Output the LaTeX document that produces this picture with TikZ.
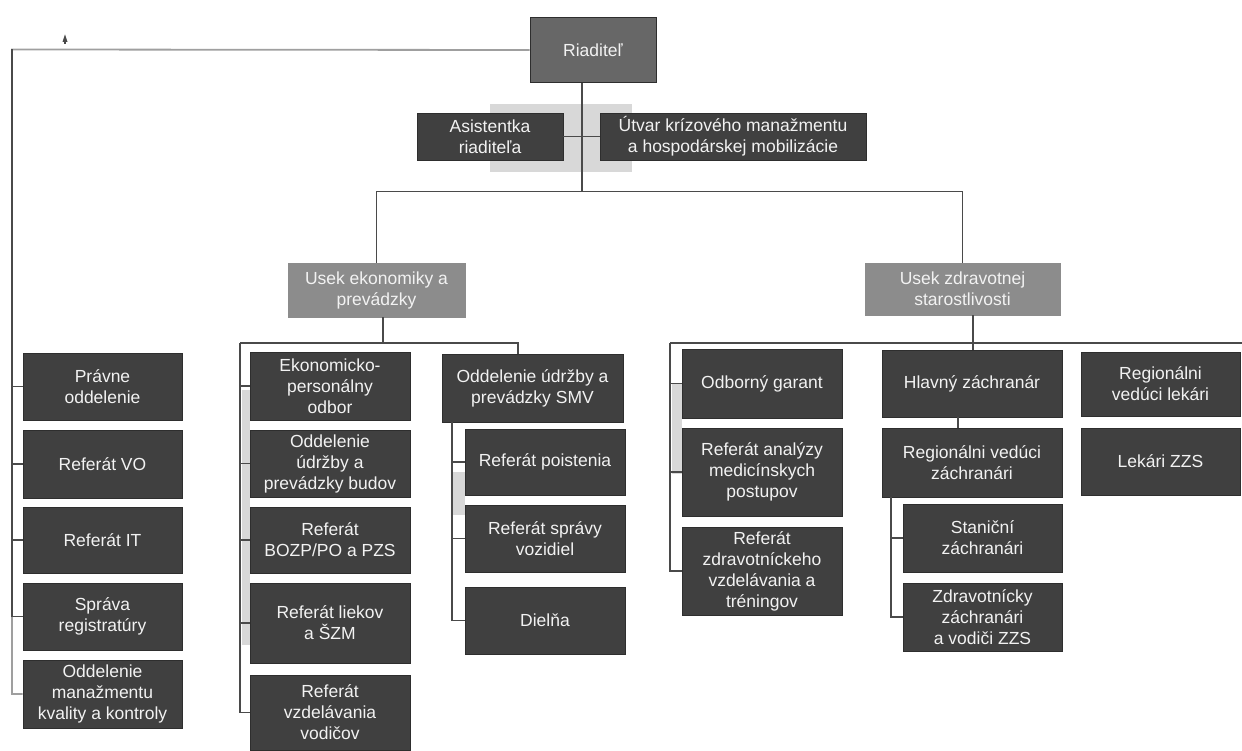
\documentclass[tikz,border=0pt]{standalone}
\usepackage{fontspec}
\setmainfont{Liberation Sans}
\usetikzlibrary{calc}
\definecolor{boxdark}{HTML}{404040}
\definecolor{boxmid}{HTML}{676767}
\definecolor{boxlight}{HTML}{8C8C8C}
\definecolor{edge}{HTML}{2E2E2E}
\definecolor{linec}{HTML}{4A4A4A}
\definecolor{smudge}{HTML}{D8D8D8}
\definecolor{txt}{HTML}{F2F2F2}
\tikzset{
  orgbox/.style={rectangle, draw=edge, line width=0.8pt, fill=boxdark, text=txt,
    align=center, inner sep=1pt, font=\fontsize{17.5}{21}\selectfont},
  topbox/.style={orgbox, fill=boxmid},
  secbox/.style={orgbox, fill=boxlight, draw=boxlight},
  conn/.style={draw=linec, line width=1.5pt},
  outer/.style={draw=gray!75, line width=1.8pt}
}
\begin{document}
\begin{tikzpicture}[x=1pt,y=-1pt]
\useasboundingbox (0,0) rectangle (1242,751);
\fill[white] (0,0) rectangle (1242,751);

% scan smudges
\fill[smudge] (490,104) rectangle (632,172);
\fill[smudge] (242,390) rectangle (250,645);
\fill[smudge] (672,384) rectangle (682,474);
\fill[smudge] (453,472) rectangle (465,515);

% small mark
\fill[linec] (62.5,42) -- (65,34.5) -- (67.5,42) -- cycle;
\fill[linec] (64.2,41) rectangle (65.8,44);

% nodes
\node[topbox, minimum width=126pt, minimum height=65pt] (riad) at (593,50) {Riaditeľ};
\node[orgbox, minimum width=146pt, minimum height=47pt] (asist) at (490,136.5) {Asistentka\\riaditeľa};
\node[orgbox, minimum width=266pt, minimum height=47pt] (utvar) at (733,136.5) {Útvar krízového manažmentu\\a hospodárskej mobilizácie};
\node[secbox, minimum width=177pt, minimum height=54pt] (usekE) at (376.5,290) {Usek ekonomiky a\\prevádzky};
\node[secbox, minimum width=195pt, minimum height=52pt] (usekZ) at (962.5,289) {Usek zdravotnej\\starostlivosti};

% left column
\node[orgbox, minimum width=159pt, minimum height=67pt] (pravne) at (102.5,386.5) {Právne\\oddelenie};
\node[orgbox, minimum width=159pt, minimum height=68pt] (refvo) at (102.5,464) {Referát VO};
\node[orgbox, minimum width=159pt, minimum height=66pt] (refit) at (102.5,540) {Referát IT};
\node[orgbox, minimum width=159pt, minimum height=67pt] (sprava) at (102.5,616.5) {Správa\\registratúry};
\node[orgbox, minimum width=159pt, minimum height=68pt] (oddman) at (102.5,694) {Oddelenie\\manažmentu\\kvality a kontroly};

% economy column
\node[orgbox, minimum width=160pt, minimum height=68pt] (eko) at (330,386) {Ekonomicko-\\personálny\\odbor};
\node[orgbox, minimum width=160pt, minimum height=67pt] (budov) at (330,463.5) {Oddelenie\\údržby a\\prevádzky budov};
\node[orgbox, minimum width=160pt, minimum height=66pt] (bozp) at (330,540) {Referát\\BOZP/PO a PZS};
\node[orgbox, minimum width=160pt, minimum height=80pt] (liekov) at (330,623) {Referát liekov\\a ŠZM};
\node[orgbox, minimum width=160pt, minimum height=75pt] (vodic) at (330,712.5) {Referát\\vzdelávania\\vodičov};

% SMV column
\node[orgbox, minimum width=181pt, minimum height=68pt] (smv) at (532.5,388) {Oddelenie údržby a\\prevádzky SMV};
\node[orgbox, minimum width=160pt, minimum height=66pt] (poist) at (545,462) {Referát poistenia};
\node[orgbox, minimum width=160pt, minimum height=67pt] (vozid) at (545,538.5) {Referát správy\\vozidiel};
\node[orgbox, minimum width=160pt, minimum height=67pt] (dielna) at (545,620.5) {Dielňa};

% health column
\node[orgbox, minimum width=160pt, minimum height=69pt] (garant) at (762,383.5) {Odborný garant};
\node[orgbox, minimum width=160pt, minimum height=88pt] (analyzy) at (762,472) {Referát analýzy\\medicínskych\\postupov};
\node[orgbox, minimum width=160pt, minimum height=88pt] (zdrvzd) at (762,571) {Referát\\zdravotníckeho\\vzdelávania a\\tréningov};

\node[orgbox, minimum width=180pt, minimum height=67pt] (hlavny) at (972,383.5) {Hlavný záchranár};
\node[orgbox, minimum width=180pt, minimum height=69pt] (regz) at (972,462.5) {Regionálni vedúci\\záchranári};
\node[orgbox, minimum width=159pt, minimum height=68pt] (stanic) at (982.5,538) {Staniční\\záchranári};
\node[orgbox, minimum width=159pt, minimum height=68pt] (zdrzach) at (982.5,617) {Zdravotnícky\\záchranári\\a vodiči ZZS};

\node[orgbox, minimum width=159pt, minimum height=64pt] (reglek) at (1160.5,384) {Regionálni\\vedúci lekári};
\node[orgbox, minimum width=159pt, minimum height=67pt] (lekzzs) at (1160.5,461.5) {Lekári ZZS};

% coordinates
\coordinate (Ltop) at (12,49.5);
\coordinate (jx) at (582,0);
\coordinate (j1) at (582,192);
\coordinate (e1) at (383,343);
\coordinate (e0) at (240,343);
\coordinate (smvtop) at (518,343);
\coordinate (s0) at (452,422);
\coordinate (z0) at (670,343);
\coordinate (zend) at (1242,343);
\coordinate (zs) at (973,343);
\coordinate (hx) at (958,0);
\coordinate (r0) at (891,497);

% connectors
\draw[outer] (riad.west) -- (Ltop) |- (oddman.west);
\foreach \n in {pravne,refvo,refit,sprava}{\draw[conn] (Ltop) |- (\n.west);}
\draw[conn] (riad.south -| jx) -- (j1);
\draw[conn] (asist.east) -- (utvar.west);
\draw[conn] (usekE.north) -- ++(0,-71) -| (usekZ.north);

\draw[conn] (usekE.south -| e1) -- (e1);
\draw[conn] (e0) -- (smvtop) -- (smvtop |- smv.north);
\foreach \n in {eko,budov,bozp,liekov,vodic}{\draw[conn] (e0) |- (\n.west);}
\foreach \n in {poist,vozid,dielna}{\draw[conn] (s0) |- (\n.west);}

\draw[conn] (z0) -- (zend);
\draw[conn] (usekZ.south -| zs) -- (hlavny.north -| zs);
\foreach \n in {garant,analyzy,zdrvzd}{\draw[conn] (z0) |- (\n.west);}
\draw[conn] (hlavny.south -| hx) -- (regz.north -| hx);
\foreach \n in {stanic,zdrzach}{\draw[conn] (r0) |- (\n.west);}
\end{tikzpicture}
\end{document}
